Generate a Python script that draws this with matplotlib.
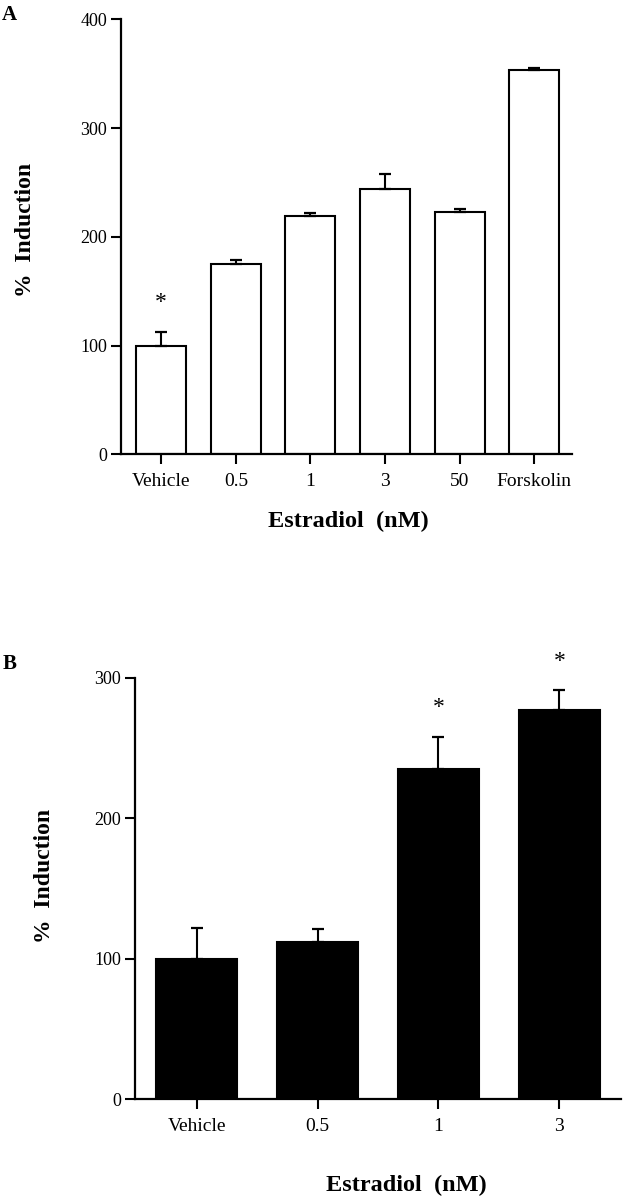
import matplotlib
matplotlib.use("Agg")
import matplotlib.pyplot as plt
import numpy as np

plt.rcParams['font.family'] = ['Liberation Serif', 'DejaVu Serif']

# Panel A data
a_categories = ["Vehicle", "0.5", "1", "3", "50", "Forskolin"]
a_values = [100, 175, 219, 244, 223, 354]
a_errors = [13, 4, 3, 14, 2.5, 1]
a_sig = [True, False, False, False, False, False]
a_yticks = [0, 100, 200, 300, 400]

# Panel B data
b_categories = ["Vehicle", "0.5", "1", "3"]
b_values = [100, 112, 235, 277]
b_errors = [22, 9, 23, 14]
b_sig = [False, False, True, True]
b_yticks = [0, 100, 200, 300]

fig = plt.figure(figsize=(6.28, 12), dpi=100)

def style_axes(ax, yticks):
    for s in ['top', 'right']:
        ax.spines[s].set_visible(False)
    for s in ['left', 'bottom']:
        ax.spines[s].set_linewidth(1.6)
    ax.set_yticks(yticks)
    ax.set_ylim(yticks[0], yticks[-1])
    ax.tick_params(axis='y', direction='out', length=7, width=1.5, labelsize=13, pad=3)
    ax.tick_params(axis='x', direction='out', length=7.5, width=1.5, labelsize=14, pad=6)

def draw_panel(ax, cats, vals, errs, sig, fill, xlim):
    x = np.arange(len(cats))
    ax.bar(x, vals, width=0.67, color=fill, edgecolor='black', linewidth=1.5, zorder=2)
    ax.errorbar(x, vals, yerr=[np.zeros(len(vals)), errs], fmt='none', ecolor='black',
                elinewidth=1.5, capsize=4.3, capthick=1.6, zorder=3)
    for xi, v, e, s in zip(x, vals, errs, sig):
        if s:
            ax.annotate('*', xy=(xi, v + e), xytext=(0, 21), textcoords='offset points',
                        ha='center', va='center', fontsize=17)
    ax.set_xticks(x)
    ax.set_xticklabels(cats)
    ax.set_xlim(*xlim)

# Panel A
axA = fig.add_axes([121/628, 1 - 454.5/1200, 450.5/628, 435/1200])
draw_panel(axA, a_categories, a_values, a_errors, a_sig, 'white', (-0.54, 5.5))
style_axes(axA, a_yticks)
fig.text(26/628, 1 - 230/1200, "%  Induction", rotation=90, ha='center', va='center',
         fontsize=17, fontweight='bold')
fig.text(348/628, 1 - 521/1200, "Estradiol  (nM)", ha='center', va='center',
         fontsize=17.5, fontweight='bold')
fig.text(2/628, 1 - 20/1200, "A", ha='left', va='baseline', fontsize=15, fontweight='bold')

# Panel B
axB = fig.add_axes([135/628, 1 - 1099/1200, 486/628, 421.3/1200])
draw_panel(axB, b_categories, b_values, b_errors, b_sig, 'black', (-0.51, 3.51))
style_axes(axB, b_yticks)
fig.text(45/628, 1 - 876/1200, "%  Induction", rotation=90, ha='center', va='center',
         fontsize=17, fontweight='bold')
fig.text(406/628, 1 - 1185/1200, "Estradiol  (nM)", ha='center', va='center',
         fontsize=17.5, fontweight='bold')
fig.text(3/628, 1 - 669/1200, "B", ha='left', va='baseline', fontsize=15, fontweight='bold')

fig.savefig("out.png", dpi=100, facecolor='white')
